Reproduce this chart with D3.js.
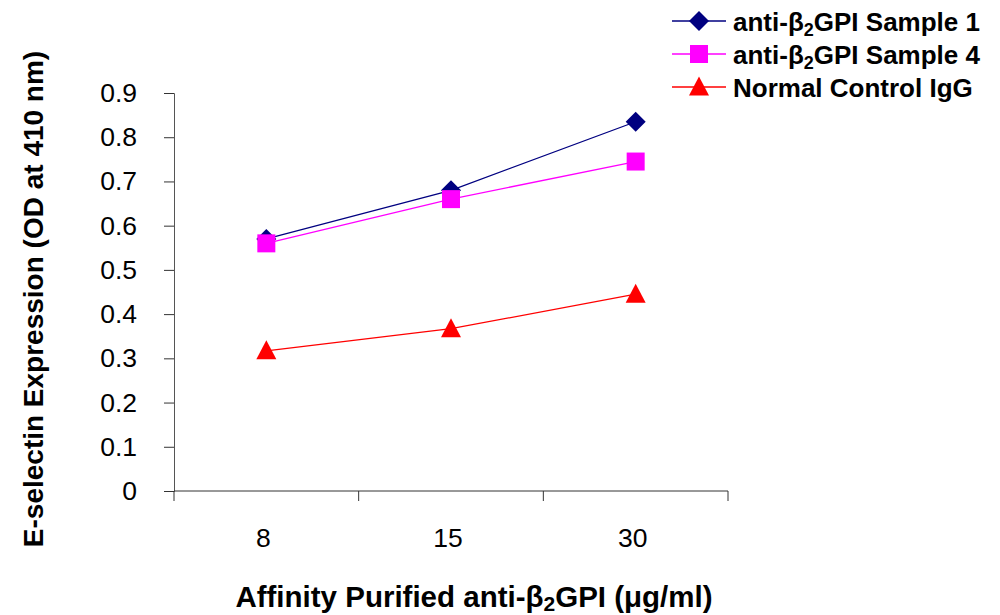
<!DOCTYPE html>
<html>
<head>
<meta charset="utf-8">
<script src="https://cdn.jsdelivr.net/npm/d3@7"></script>
<style>
  body { margin: 0; background: #fff; }
  svg { font-family: "Liberation Sans", Arial, sans-serif; }
</style>
</head>
<body>
<div id="chart"></div>
<script>
// dados
const doses = ["8", "15", "30"];
const sample1 = [0.57, 0.68, 0.835];
const sample4 = [0.56, 0.66, 0.745];
const controlIgG = [0.317, 0.367, 0.445];
const yTicks = [0, 0.1, 0.2, 0.3, 0.4, 0.5, 0.6, 0.7, 0.8, 0.9];

const series = [
    { name: "Sample 1", prefix: true, values: sample1, color: "#000080", shape: "diamond" },
    { name: "Sample 4", prefix: true, values: sample4, color: "#ff00ff", shape: "square" },
    { name: "Normal Control IgG", prefix: false, values: controlIgG, color: "#ff0000", shape: "triangle" }
];

const width = 1000, height = 615;
const svg = d3.select("#chart").append("svg")
    .attr("width", width)
    .attr("height", height);

const x = d3.scaleBand().domain(doses).range([174, 728]).padding(0);
const y = d3.scaleLinear().domain([0, 0.9]).range([491, 93]);
const cx = d => x(d) + x.bandwidth() / 2;

// eixo Y
const yAxis = svg.append("g")
    .attr("transform", "translate(174,0)")
    .call(d3.axisLeft(y).tickValues(yTicks).tickSize(10).tickPadding(27)
        .tickFormat(d => d === 0 ? "0" : d3.format(".1f")(d)));
yAxis.select(".domain").attr("stroke", "#555");
yAxis.selectAll(".tick line").attr("stroke", "#333");
yAxis.selectAll("text").attr("font-size", 26.5).attr("fill", "#000");

// eixo X: linha + ticks nos limites das categorias
const xAxis = svg.append("g").attr("transform", "translate(0,491)");
xAxis.append("line")
    .attr("x1", x.range()[0]).attr("x2", x.range()[1])
    .attr("stroke", "#333");
const bounds = doses.map(d => x(d)).concat([x.range()[1]]);
xAxis.selectAll(".tk").data(bounds).enter().append("line")
    .attr("x1", d => d).attr("x2", d => d)
    .attr("y1", 0).attr("y2", 10)
    .attr("stroke", "#333");
xAxis.selectAll(".lbl").data(doses).enter().append("text")
    .attr("x", d => cx(d) - 3)
    .attr("y", 56)
    .attr("text-anchor", "middle")
    .attr("font-size", 26.5)
    .text(d => d);

// linhas e marcadores
const line = d3.line().x((v, i) => cx(doses[i])).y(v => y(v));

function marker(sel, shape, color) {
    if (shape === "diamond") {
        sel.append("path").attr("d", "M0,-10L10,0L0,10L-10,0Z").attr("fill", color);
    } else if (shape === "square") {
        sel.append("rect").attr("x", -9).attr("y", -9).attr("width", 18).attr("height", 18).attr("fill", color);
    } else {
        sel.append("path").attr("d", "M0,-10.5L10,8.5L-10,8.5Z").attr("fill", color);
    }
}

series.forEach(s => {
    svg.append("path")
        .datum(s.values)
        .attr("d", line)
        .attr("fill", "none")
        .attr("stroke", s.color)
        .attr("stroke-width", 1.3);
    s.values.forEach((v, i) => {
        const g = svg.append("g").attr("transform", `translate(${cx(doses[i])},${y(v)})`);
        marker(g, s.shape, s.color);
    });
});

// legenda
const legend = svg.append("g").attr("transform", "translate(672,21)");
series.forEach((s, i) => {
    const g = legend.append("g").attr("transform", `translate(0,${i * 33})`);
    g.append("line").attr("x1", 0).attr("x2", 54).attr("stroke", s.color).attr("stroke-width", 1.3);
    const m = g.append("g").attr("transform", "translate(27,0)");
    marker(m, s.shape, s.color);
    const t = g.append("text")
        .attr("x", 61).attr("y", 10)
        .attr("font-size", 26).attr("font-weight", "bold");
    if (s.prefix) {
        t.append("tspan").text("anti-β");
        t.append("tspan").attr("font-size", 18).attr("dy", 5).text("2");
        t.append("tspan").attr("dy", -5).text("GPI " + s.name);
    } else {
        t.text(s.name);
    }
});

// títulos dos eixos
svg.append("text")
    .attr("transform", "translate(43,299) rotate(-90)")
    .attr("text-anchor", "middle")
    .attr("font-size", 28).attr("font-weight", "bold")
    .text("E-selectin Expression (OD at 410 nm)");

const xt = svg.append("text")
    .attr("x", 474).attr("y", 607)
    .attr("text-anchor", "middle")
    .attr("font-size", 29.5).attr("font-weight", "bold");
xt.append("tspan").text("Affinity Purified anti-β");
xt.append("tspan").attr("font-size", 21).attr("dy", 4).text("2");
xt.append("tspan").attr("dy", -4).text("GPI (μg/ml)");
</script>
</body>
</html>
